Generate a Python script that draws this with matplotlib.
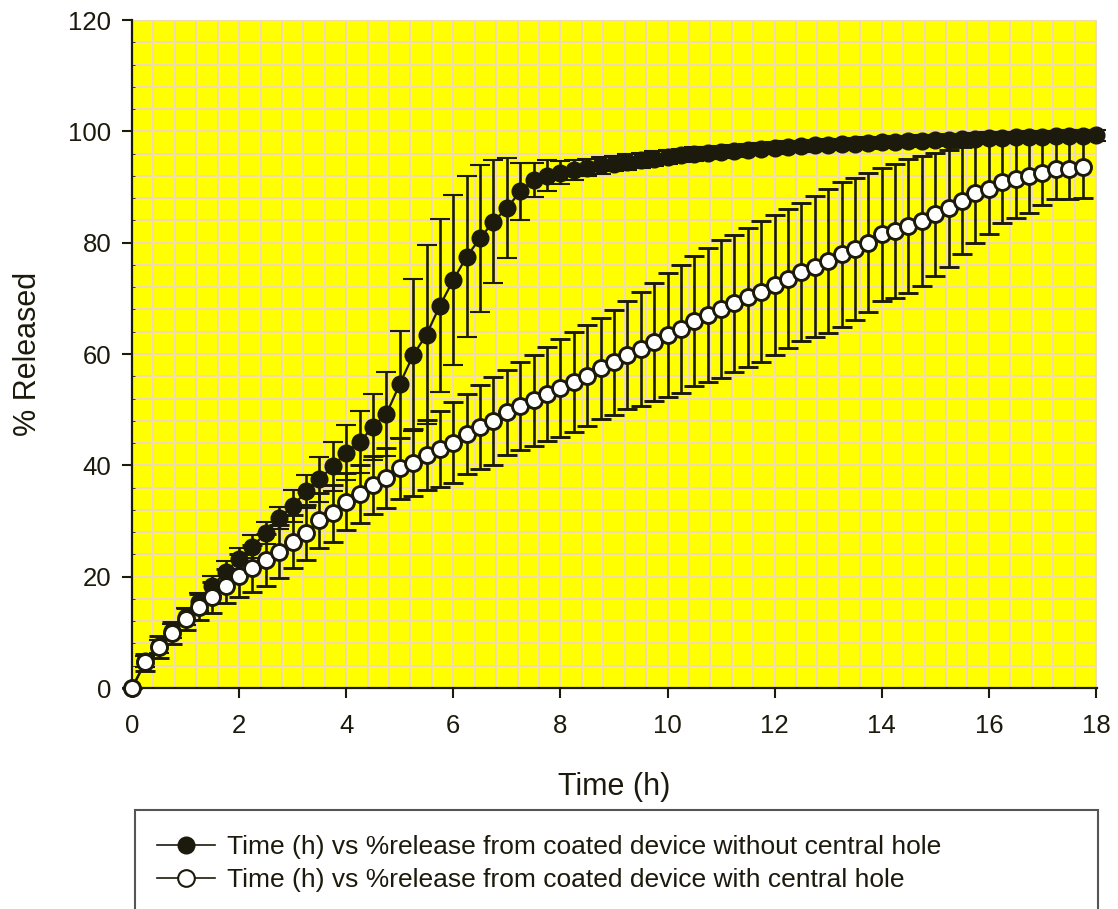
import matplotlib
matplotlib.use("Agg")
import matplotlib.pyplot as plt
from matplotlib.ticker import MultipleLocator
from matplotlib.patches import Rectangle
from matplotlib.lines import Line2D

plt.rcParams['font.family'] = ['Liberation Sans', 'DejaVu Sans']

# Time points (h)
time_black = [0, 0.25, 0.5, 0.75, 1.0, 1.25, 1.5, 1.75, 2.0, 2.25, 2.5, 2.75,
              3.0, 3.25, 3.5, 3.75, 4.0, 4.25, 4.5, 4.75, 5.0, 5.25, 5.5, 5.75,
              6.0, 6.25, 6.5, 6.75, 7.0, 7.25, 7.5, 7.75, 8.0, 8.25, 8.5, 8.75,
              9.0, 9.25, 9.5, 9.75, 10.0, 10.25, 10.5, 10.75, 11.0, 11.25, 11.5, 11.75,
              12.0, 12.25, 12.5, 12.75, 13.0, 13.25, 13.5, 13.75, 14.0, 14.25, 14.5, 14.75,
              15.0, 15.25, 15.5, 15.75, 16.0, 16.25, 16.5, 16.75, 17.0, 17.25, 17.5, 17.75, 18.0]
time_white = time_black[:-1]

# % released, coated device without central hole (filled markers)
rel_no_hole = [0, 4.8, 7.5, 10.2, 12.8, 15.5, 18.3, 20.9, 23.1, 25.4, 27.9, 30.5,
               32.7, 35.3, 37.5, 39.8, 42.3, 44.2, 46.9, 49.2, 54.6, 59.8, 63.5, 68.7,
               73.3, 77.5, 80.8, 83.8, 86.2, 89.2, 91.3, 92.0, 92.6, 93.1, 93.5, 93.9,
               94.2, 94.5, 94.8, 95.1, 95.4, 95.7, 95.9, 96.1, 96.3, 96.5, 96.7, 96.9,
               97.0, 97.2, 97.3, 97.5, 97.6, 97.7, 97.8, 97.9, 98.0, 98.1, 98.2, 98.3,
               98.4, 98.5, 98.6, 98.7, 98.8, 98.85, 98.9, 99.0, 99.05, 99.1, 99.2, 99.25, 99.3]
err_no_hole = [0, 1.0, 1.2, 1.3, 1.5, 1.6, 1.8, 1.9, 2.0, 2.0, 2.0, 2.0,
               2.9, 3.0, 4.0, 4.4, 4.9, 5.5, 6.0, 7.5, 9.6, 13.6, 16.0, 15.5,
               15.2, 14.4, 13.2, 11.0, 9.0, 5.2, 3.1, 2.8, 2.0, 1.8, 1.6, 1.5,
               1.4, 1.4, 1.3, 1.3, 1.2, 1.2, 1.2, 1.1, 1.1, 1.1, 1.0, 1.0,
               1.0, 1.0, 1.0, 1.0, 1.0, 1.0, 1.0, 1.0, 1.0, 1.0, 1.0, 1.0,
               1.0, 1.0, 1.0, 1.0, 1.0, 1.0, 1.0, 1.0, 1.0, 1.0, 1.0, 1.0, 1.0]

# % released, coated device with central hole (open markers)
rel_hole = [0, 4.6, 7.3, 9.9, 12.4, 14.5, 16.3, 18.3, 20.2, 21.5, 23.0, 24.5,
            26.3, 27.9, 30.1, 31.4, 33.5, 34.8, 36.5, 37.8, 39.5, 40.5, 41.9, 42.9,
            44.1, 45.6, 46.9, 48.0, 49.5, 50.7, 51.7, 52.8, 53.9, 55.0, 56.1, 57.4,
            58.5, 59.8, 60.9, 62.2, 63.4, 64.5, 65.9, 67.0, 68.1, 69.1, 70.2, 71.2,
            72.4, 73.5, 74.8, 75.7, 76.7, 77.9, 78.9, 80.0, 81.5, 82.1, 83.0, 83.9,
            85.1, 86.2, 87.5, 89.0, 89.7, 90.9, 91.4, 91.9, 92.6, 93.2, 93.2, 93.6]
err_hole = [0, 1.5, 2.0, 2.0, 2.0, 2.3, 2.8, 3.1, 3.8, 4.2, 4.6, 4.8,
            4.8, 4.9, 5.0, 5.1, 5.2, 5.2, 5.2, 5.4, 5.5, 6.0, 6.3, 6.8,
            7.2, 7.2, 7.5, 7.9, 7.7, 7.9, 8.2, 8.5, 8.8, 9.0, 9.1, 9.1,
            9.4, 9.7, 10.3, 10.6, 11.1, 11.5, 11.7, 12.0, 12.4, 12.3, 12.5, 12.7,
            12.6, 12.5, 12.4, 12.6, 12.9, 13.0, 12.8, 12.5, 12.0, 12.1, 12.0, 11.6,
            11.0, 10.5, 9.6, 9.0, 8.2, 7.4, 7.0, 6.6, 5.9, 5.4, 5.4, 5.6]

x_ticks = [0, 2, 4, 6, 8, 10, 12, 14, 16, 18]
y_ticks = [0, 20, 40, 60, 80, 100, 120]
labels = ["Time (h) vs %release from coated device without central hole",
          "Time (h) vs %release from coated device with central hole"]

dark = '#1c1a0c'
W, H = 1118, 909
fig = plt.figure(figsize=(W / 100, H / 100), dpi=100)
ax = fig.add_axes([132 / W, 1 - 688 / H, (1097 - 132) / W, (688 - 20) / H])
ax.set_facecolor('#ffff00')

ax.set_xlim(0, 18.02)
ax.set_ylim(0, 120)
ax.set_xticks(x_ticks)
ax.set_yticks(y_ticks)
ax.xaxis.set_minor_locator(MultipleLocator(0.4))
ax.yaxis.set_minor_locator(MultipleLocator(4))
ax.grid(which='both', color='#f0dbb4', linewidth=1.4)
ax.set_axisbelow(True)

for s in ['top', 'right']:
    ax.spines[s].set_visible(False)
for s in ['left', 'bottom']:
    ax.spines[s].set_color(dark)
    ax.spines[s].set_linewidth(1.6)

ax.tick_params(which='major', length=7, width=1.5, color=dark, labelsize=18.5,
               labelcolor=dark)
ax.tick_params(axis='x', which='major', pad=12)
ax.tick_params(axis='y', which='major', pad=8)
ax.tick_params(axis='x', which='minor', length=0)
ax.tick_params(axis='y', which='minor', length=2, direction='in', color=dark)

h1 = ax.errorbar(time_black, rel_no_hole, yerr=err_no_hole, fmt='o-', color=dark,
                 mfc=dark, mec=dark, ms=11.5, mew=1.5, lw=1.6, elinewidth=1.9,
                 capsize=7, capthick=1.9, clip_on=False, zorder=3)
h2 = ax.errorbar(time_white, rel_hole, yerr=err_hole, fmt='o-', color=dark,
                 mfc='white', mec=dark, ms=11.5, mew=2.1, lw=1.6, elinewidth=1.9,
                 capsize=7, capthick=1.9, clip_on=False, zorder=4)
for h in (h1, h2):
    h.lines[0].set_clip_on(False)

ax.set_xlabel('Time (h)', fontsize=22, color=dark, labelpad=24)
ax.set_ylabel('% Released', fontsize=22, color=dark, labelpad=18)

# Legend box (cut off at bottom of figure as in the reference)
rect = Rectangle((135 / W, -0.05), (1098 - 135) / W, (1 - 810 / H) + 0.05,
                 transform=fig.transFigure, facecolor='white', edgecolor='#555555',
                 linewidth=1.5, zorder=0)
fig.patches.append(rect)

lh1 = Line2D([], [], color=dark, lw=1.2, marker='o', ms=12, mfc=dark, mec=dark)
lh2 = Line2D([], [], color=dark, lw=1.2, marker='o', ms=12, mfc='white', mec=dark, mew=1.5)
fig.legend([lh1, lh2], labels, loc='upper left',
           bbox_to_anchor=(144 / W, 1 - 822 / H), frameon=False,
           fontsize=19, handlelength=2.2, handletextpad=0.45, labelspacing=0.35,
           borderpad=0, labelcolor=dark)

fig.savefig('out.png', dpi=100, facecolor='white')
